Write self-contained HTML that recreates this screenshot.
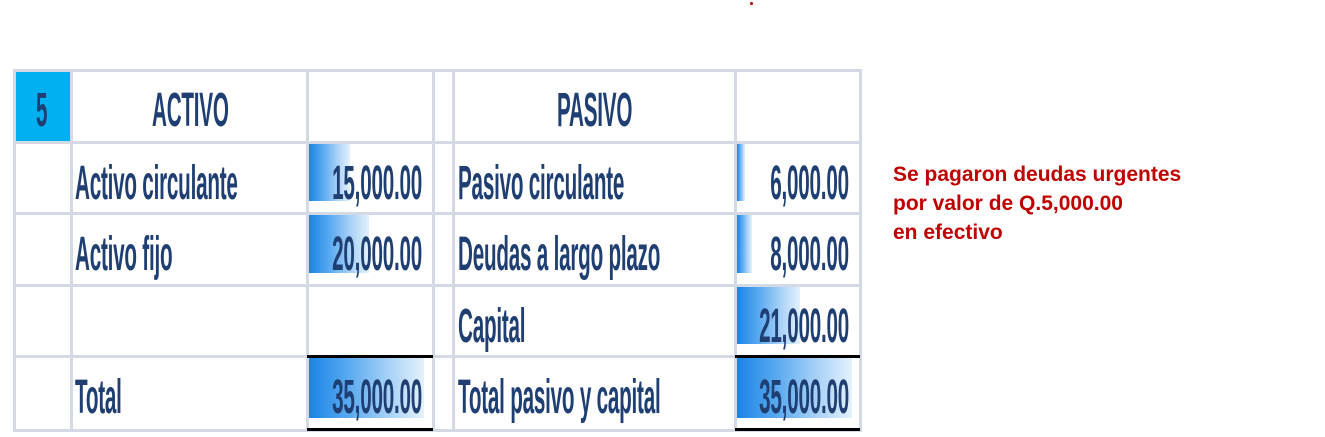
<!DOCTYPE html>
<html><head><meta charset="utf-8">
<style>
body{margin:0;width:1325px;height:437px;background:#fff;position:relative;overflow:hidden;font-family:"Liberation Sans",sans-serif}
.l{position:absolute;background:#d3d9e5}
.t{position:absolute;color:#1f3f73;font-size:48px;font-weight:bold;white-space:nowrap;transform-origin:left top;transform:scaleX(0.43);line-height:48px;letter-spacing:-0.5px}
.bar{position:absolute;background:linear-gradient(90deg,#1a84e6,#5aaaf0 35%,#a9d2f7 70%,#e4f1fd)}
.blk{position:absolute;height:3px;background:#000}
</style></head><body>
<div style="position:absolute;left:750px;top:2px;width:3px;height:3px;background:#c00000;border-radius:50%"></div>
<div style="position:absolute;left:14px;top:71px;width:57px;height:71px;background:#00b0f0"></div>
<div id="grid"></div>
<div id="cells"></div>
<div style="position:absolute;left:893px;top:160px;color:#c00000;font-weight:bold;font-size:21px;line-height:29px">Se pagaron deudas urgentes<br>por valor de Q.5,000.00<br>en efectivo</div>
<script>
const leftLabels=["Activo circulante","Activo fijo","","Total"];
const leftValues=[15000,20000,null,35000];
const rightLabels=["Pasivo circulante","Deudas a largo plazo","Capital","Total pasivo y capital"];
const rightValues=[6000,8000,21000,35000];
const maxValue=35000;
const rows=[70,142,213,285,356,430];
const cols=[14,71,307,433,453,735,860];
const g=document.getElementById('grid');
rows.forEach(y=>{const d=document.createElement('div');d.className='l';


d.style.cssText=`left:14px;top:${y-1}px;width:846px;height:3px`;g.appendChild(d);});
cols.forEach(x=>{const d=document.createElement('div');d.className='l';


d.style.cssText=`left:${x-1}px;top:69px;width:3px;height:363px`;g.appendChild(d);});
const c=document.getElementById('cells');
function txt(s,x,top,name,right){const d=document.createElement('div');d.className='t';d.textContent=s;


d.style.top=top+'px';
if(right){d.style.transformOrigin='right top';d.style.right=(1325-x)+'px';}else d.style.left=x+'px';
c.appendChild(d);}
function bar(v,x,i){const top=rows[i+1]+2,h=rows[i+2]-rows[i+1]-14;const d=document.createElement('div');d.className='bar';


d.style.cssText=`left:${x}px;top:${top}px;height:${h}px;width:${Math.max(4,v/maxValue*129.5-14.5)}px`;c.appendChild(d);}
txt("5",36,rows[0]+17,'row-number');
txt("ACTIVO",152,rows[0]+17,'activo-header');
txt("PASIVO",557,rows[0]+17,'pasivo-header');
leftLabels.forEach((s,i)=>{const y=rows[i+1]+18;if(s)txt(s,75,y,'left-label');
if(leftValues[i]!=null){bar(leftValues[i],309,i);txt(leftValues[i].toLocaleString('en-US',{minimumFractionDigits:2}),422,y,'left-value',true);}});
rightLabels.forEach((s,i)=>{const y=rows[i+1]+18;txt(s,458,y,'right-label');
bar(rightValues[i],737,i);txt(rightValues[i].toLocaleString('en-US',{minimumFractionDigits:2}),849,y,'right-value',true);});
[[307,433],[735,860]].forEach(([a,b])=>[355,428].forEach(y=>{const d=document.createElement('div');d.className='blk';


d.style.cssText=`left:${a}px;top:${y}px;width:${b-a}px`;c.appendChild(d);}));
</script>
</body></html>
